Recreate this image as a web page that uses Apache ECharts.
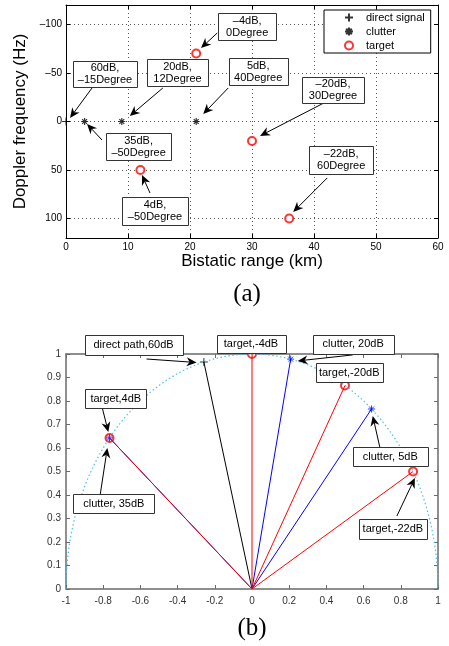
<!DOCTYPE html>
<html>
<head>
<meta charset="utf-8">
<script src="https://cdn.jsdelivr.net/npm/echarts@6/dist/echarts.min.js"></script>
<style>
html, body { margin: 0; padding: 0; background: #fff; }
#chart { width: 449px; height: 646px; }
</style>
</head>
<body>
<div id="chart"></div>
<script>
// (a) bistatic range (km) / doppler (Hz)
var directA = [[0, 0]];
var clutterA = [[3, 0], [9, 0], [21, 0]];
var targetA = [[21, -70], [30, 20], [12, 50], [36, 100]];
var dopplerTicks = [-100, -50, 0, 50, 100];

// (b) direction of each path, degrees
var directAngles = [-15];
var clutterAngles = [12, 40, -50];
var targetAngles = [0, 30, 60, -50];

// annotation texts
var notesA = [
  { text: '\u20134dB,\n0Degree', pt: targetA[0] },
  { text: '60dB,\n\u201315Degree', pt: directA[0] },
  { text: '20dB,\n12Degree', pt: clutterA[1] },
  { text: '5dB,\n40Degree', pt: clutterA[2] },
  { text: '\u201320dB,\n30Degree', pt: targetA[1] },
  { text: '35dB,\n\u201350Degree', pt: clutterA[0] },
  { text: '4dB,\n\u201350Degree', pt: targetA[2] },
  { text: '\u201322dB,\n60Degree', pt: targetA[3] }
];
var notesB = [
  { text: 'direct path,60dB', ang: directAngles[0] },
  { text: 'target,-4dB', ang: targetAngles[0] },
  { text: 'clutter, 20dB', ang: clutterAngles[0] },
  { text: 'target,-20dB', ang: targetAngles[1] },
  { text: 'clutter, 5dB', ang: clutterAngles[1] },
  { text: 'target,-22dB', ang: targetAngles[2] },
  { text: 'target,4dB', ang: targetAngles[3] },
  { text: 'clutter, 35dB', ang: clutterAngles[2] }
];

// layout of the notes, px relative to the pointed mark:
// box centre dx,dy,w,h / arrow tail / arrow head (null = no arrow)
var layoutA = [
  { box: [51, -27, 58, 27], tail: [21, -20.5], head: [4.8, -5.5] },
  { box: [39, -47.5, 64, 26], tail: [26, -33.5], head: [4, -3.5] },
  { box: [55.7, -49, 61, 27], tail: [41, -33.5], head: [8, -5.5] },
  { box: [62, -50, 59, 27], tail: [32, -33.5], head: [7, -7.5] },
  { box: [81, -51.4, 62, 26], tail: [72, -38], head: [8, -5] },
  { box: [54, 25, 65, 27], tail: [17.4, 18.5], head: [2.4, 2.5] },
  { box: [14.6, 41, 66, 28], tail: [9.6, 23], head: [1.6, 5] },
  { box: [52, -59, 64, 28], tail: [38, -40.6], head: [4, -6.6] }
];
var layoutB = [
  { box: [-70.3, -17, 98, 20], tail: [-57.3, -3], head: [-7.3, 0.5] },
  { box: [-1, -10, 69, 18], tail: null, head: null },
  { box: [62.5, -14.7, 81, 19], tail: [62, -4.2], head: [7, 1.8] },
  { box: [4.2, -13, 67, 19], tail: null, head: null },
  { box: [18.7, 47.5, 75, 19], tail: [8.2, 38], head: [1.2, 7] },
  { box: [-20.2, 57.5, 68, 20], tail: [-16.2, 44.5], head: [1.8, 6.5] },
  { box: [6.3, -39.4, 61, 19], tail: [-7.2, -29.9], head: [-1.2, -5.9] },
  { box: [4.3, 65.6, 81, 19], tail: [-9.2, 56], head: [-2.2, 10] }
];

var PLUS = 'path://M5 0L5 10M0 5L10 5';
var STAR = 'path://M5 0L5 10M0 5L10 5M1.5 1.5L8.5 8.5M1.5 8.5L8.5 1.5';

function polar(deg) {
  var r = deg * Math.PI / 180;
  return [Math.sin(r), Math.cos(r)];
}
function dash(v) { return String(v).replace('-', '\u2013'); }

// unit semicircle (reference curve)
var circle = [];
for (var a = -90; a <= 90; a += 2) circle.push(polar(a));

var chart = echarts.init(document.getElementById('chart'));

var axisA = { lineStyle: { color: '#000', width: 1 }, onZero: false };
var axisB = { lineStyle: { color: '#6a6a6a', width: 1.5 }, onZero: false };
var labA = { color: '#000', fontSize: 10, fontFamily: 'Liberation Sans', margin: 4 };
var labB = { color: '#333', fontSize: 10, fontFamily: 'Liberation Sans' };
var gridSplit = { show: true, lineStyle: { color: '#555', type: [1, 3], width: 1 } };

var series = [
  { name: 'direct signal', type: 'scatter', xAxisIndex: 0, yAxisIndex: 0, data: directA,
    symbol: PLUS, symbolSize: 8, symbolKeepAspect: true,
    itemStyle: { color: '#000', borderColor: '#000', borderWidth: 1 } },
  { name: 'clutter', type: 'scatter', xAxisIndex: 0, yAxisIndex: 0, data: clutterA,
    symbol: STAR, symbolSize: 7, symbolKeepAspect: true,
    itemStyle: { color: '#000', borderColor: '#000', borderWidth: 1.2 } },
  { name: 'target', type: 'scatter', xAxisIndex: 0, yAxisIndex: 0, data: targetA,
    symbol: 'emptyCircle', symbolSize: 8,
    itemStyle: { color: '#f00', borderColor: '#f00', borderWidth: 1 } },
  { name: 'circle', type: 'line', xAxisIndex: 2, yAxisIndex: 2, data: circle, showSymbol: false,
    lineStyle: { color: '#4DBEEE', width: 1.2, type: [1.5, 2.5] }, silent: true }
];
function ray(ang, color) {
  series.push({ name: 'ray', type: 'line', xAxisIndex: 2, yAxisIndex: 2,
    data: [[0, 0], polar(ang)], showSymbol: false,
    lineStyle: { color: color, width: 1 } });
}
directAngles.forEach(function (d) { ray(d, '#000'); });
clutterAngles.forEach(function (d) { ray(d, '#00f'); });
targetAngles.forEach(function (d) { ray(d, '#f00'); });
series.push(
  { name: 'direct path', type: 'scatter', xAxisIndex: 2, yAxisIndex: 2, data: directAngles.map(polar),
    symbol: PLUS, symbolSize: 8, symbolKeepAspect: true,
    itemStyle: { color: '#000', borderColor: '#000', borderWidth: 1 } },
  { name: 'target path', type: 'scatter', xAxisIndex: 2, yAxisIndex: 2, data: targetAngles.map(polar),
    symbol: 'emptyCircle', symbolSize: 8,
    itemStyle: { color: '#f00', borderColor: '#f00', borderWidth: 1 } },
  { name: 'clutter path', type: 'scatter', xAxisIndex: 2, yAxisIndex: 2, data: clutterAngles.map(polar),
    symbol: STAR, symbolSize: 7, symbolKeepAspect: true,
    itemStyle: { color: '#00f', borderColor: '#00f', borderWidth: 1 } }
);

chart.setOption({
  animation: false,
  textStyle: { fontFamily: 'Liberation Sans' },
  grid: [
    { left: 66, top: 5, width: 372, height: 233 },
    { left: 66, top: 354, width: 372, height: 235 }
  ],
  legend: {
    data: [
      { name: 'direct signal', icon: PLUS },
      { name: 'clutter', icon: STAR },
      { name: 'target', icon: 'emptyCircle' }
    ],
    orient: 'vertical', left: 324, top: 10,
    padding: [2, 6, 2, 20], itemWidth: 8, itemHeight: 8, itemGap: 3,
    selectedMode: false,
    backgroundColor: '#fff', borderColor: '#000', borderWidth: 1,
    textStyle: { fontSize: 11, color: '#000', padding: [0, 0, 0, 8] }
  },
  xAxis: [
    { gridIndex: 0, type: 'value', min: 0, max: 60, interval: 10, position: 'bottom',
      name: 'Bistatic range (km)', nameLocation: 'middle', nameGap: 14,
      nameTextStyle: { fontSize: 17, color: '#000' },
      axisLine: axisA, axisTick: { inside: true, length: 4, lineStyle: { color: '#000' } },
      axisLabel: labA, splitLine: gridSplit },
    { gridIndex: 0, type: 'value', min: 0, max: 60, interval: 10, position: 'top',
      axisLine: axisA, axisTick: { inside: true, length: 4, lineStyle: { color: '#000' } },
      axisLabel: { show: false }, splitLine: { show: false } },
    { gridIndex: 1, type: 'value', min: -1, max: 1, interval: 0.2, position: 'bottom',
      axisLine: axisB, axisTick: { inside: true, length: 4, lineStyle: { color: '#6a6a6a' } },
      axisLabel: Object.assign({ margin: 7 }, labB), splitLine: { show: false } },
    { gridIndex: 1, type: 'value', min: -1, max: 1, interval: 0.2, position: 'top',
      axisLine: axisB, axisTick: { inside: true, length: 4, lineStyle: { color: '#6a6a6a' } },
      axisLabel: { show: false }, splitLine: { show: false } }
  ],
  yAxis: [
    { gridIndex: 0, type: 'value', min: -120, max: 120, inverse: true, position: 'left',
      name: 'Doppler frequency (Hz)', nameLocation: 'middle', nameGap: 34, nameRotate: 90,
      nameTextStyle: { fontSize: 17, color: '#000' },
      axisLine: axisA,
      axisTick: { inside: true, length: 4, customValues: dopplerTicks, lineStyle: { color: '#000' } },
      axisLabel: Object.assign({ customValues: dopplerTicks, formatter: dash }, labA),
      splitLine: gridSplit },
    { gridIndex: 0, type: 'value', min: -120, max: 120, inverse: true, position: 'right',
      axisLine: axisA,
      axisTick: { inside: true, length: 4, customValues: dopplerTicks, lineStyle: { color: '#000' } },
      axisLabel: { show: false, customValues: dopplerTicks }, splitLine: { show: false } },
    { gridIndex: 1, type: 'value', min: 0, max: 1, interval: 0.1, position: 'left',
      axisLine: axisB, axisTick: { inside: true, length: 4, lineStyle: { color: '#6a6a6a' } },
      axisLabel: Object.assign({ margin: 5 }, labB), splitLine: { show: false } },
    { gridIndex: 1, type: 'value', min: 0, max: 1, interval: 0.1, position: 'right',
      axisLine: axisB, axisTick: { inside: true, length: 4, lineStyle: { color: '#6a6a6a' } },
      axisLabel: { show: false }, splitLine: { show: false } }
  ],
  series: series
});

// annotation boxes with arrows, anchored on the marks
function arrowHead(tail, head, len, half) {
  var dx = head[0] - tail[0], dy = head[1] - tail[1];
  var L = Math.sqrt(dx * dx + dy * dy), ux = dx / L, uy = dy / L;
  var bx = head[0] - ux * len, by = head[1] - uy * len;
  var notch = [head[0] - ux * len * 0.7, head[1] - uy * len * 0.7];
  return [
    { type: 'line', z: 10, shape: { x1: tail[0], y1: tail[1], x2: notch[0], y2: notch[1] },
      style: { stroke: '#000', lineWidth: 1 } },
    { type: 'polygon', z: 10, shape: { points: [head, [bx - uy * half, by + ux * half], notch, [bx + uy * half, by - ux * half]] },
      style: { fill: '#000' } }
  ];
}
function note(p, lay, text, fs, lh) {
  var out = [];
  var b = lay.box;
  var x0 = Math.round(p[0] + b[0] - b[2] / 2) + 0.5, y0 = Math.round(p[1] + b[1] - b[3] / 2) + 0.5;
  if (lay.tail) {
    out = out.concat(arrowHead([p[0] + lay.tail[0], p[1] + lay.tail[1]],
                               [p[0] + lay.head[0], p[1] + lay.head[1]], 10, 4.5));
  }
  out.push({ type: 'rect', z: 11, shape: { x: x0, y: y0, width: b[2], height: b[3] },
    style: { fill: '#fff', stroke: '#333', lineWidth: 1 } });
  out.push({ type: 'text', z: 12, x: p[0] + b[0], y: p[1] + b[1],
    style: { text: text, fill: '#000', font: fs + 'px "Liberation Sans"', lineHeight: lh,
      align: 'center', verticalAlign: 'middle' } });
  return out;
}

var graphics = [];
notesA.forEach(function (n, i) {
  var p = chart.convertToPixel({ xAxisIndex: 0, yAxisIndex: 0 }, n.pt);
  graphics = graphics.concat(note(p, layoutA[i], n.text, 11, 12));
});
notesB.forEach(function (n, i) {
  var p = chart.convertToPixel({ xAxisIndex: 2, yAxisIndex: 2 }, polar(n.ang));
  graphics = graphics.concat(note(p, layoutB[i], n.text, 11, 12));
});
graphics.push({ type: 'text', x: 247, y: 294,
  style: { text: '(a)', font: '25px "Liberation Serif"', fill: '#000', align: 'center', verticalAlign: 'middle' } });
graphics.push({ type: 'text', x: 252, y: 628,
  style: { text: '(b)', font: '25px "Liberation Serif"', fill: '#000', align: 'center', verticalAlign: 'middle' } });

chart.setOption({ graphic: graphics });
</script>
</body>
</html>
